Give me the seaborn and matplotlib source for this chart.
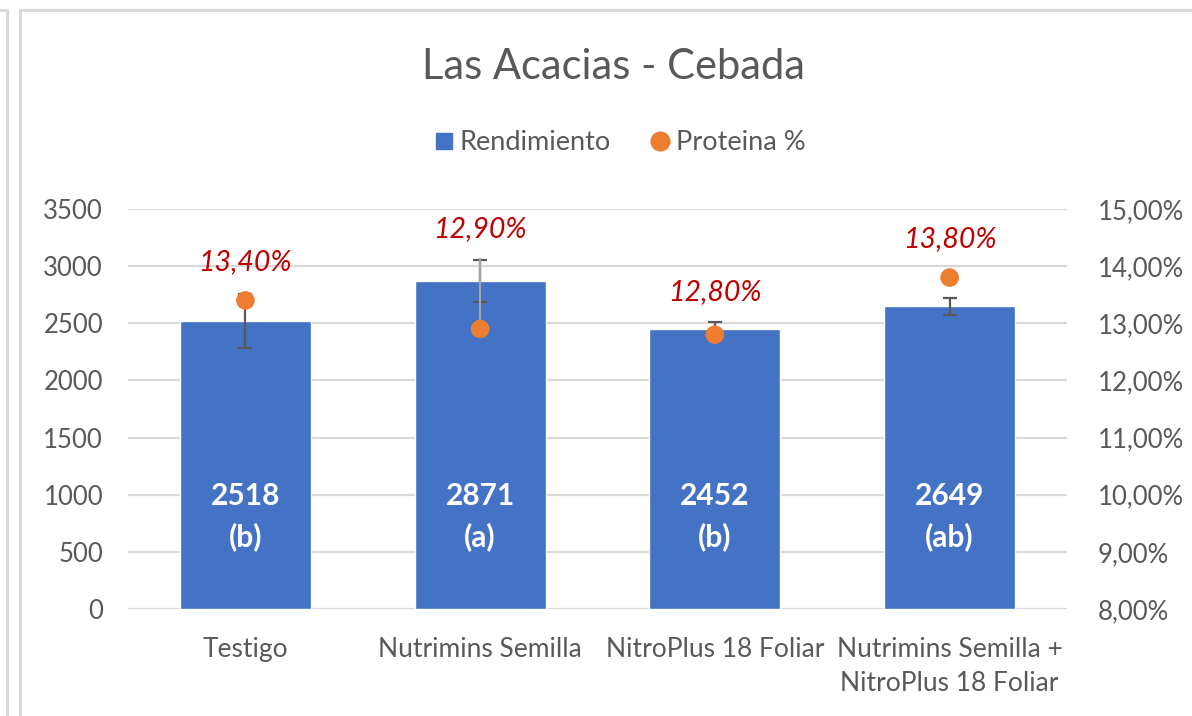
import numpy as np
import matplotlib.pyplot as plt
import seaborn as sns
from matplotlib.lines import Line2D
from matplotlib.ticker import FuncFormatter, MultipleLocator

# data
categorias = ["Testigo", "Nutrimins Semilla", "NitroPlus 18 Foliar",
              "Nutrimins Semilla +\nNitroPlus 18 Foliar"]
rendimiento = [2518, 2871, 2452, 2649]
letras = ["b", "a", "b", "ab"]
rend_error = [234, 187, 62, 73]
proteina = [13.4, 12.9, 12.8, 13.8]
prot_error_sup = [0, 1.24, 0, 0]

AZUL = "#4472C4"
NARANJA = "#ED7D31"
GRIS = "#595959"
ROJO = "#C00000"

sns.set_theme(style="white")
plt.rcParams['font.family'] = ['Lato', 'DejaVu Sans']

fig = plt.figure(figsize=(11.92, 7.16), dpi=100)
ax = fig.add_axes([128 / 1192, 1 - 609 / 716, 939 / 1192, 400 / 716])

# 1. bars (rendimiento)
sns.barplot(x=categorias, y=rendimiento, color=AZUL, saturation=1,
            width=0.557, ax=ax, zorder=2)
x_pos = np.arange(len(categorias))
ax.errorbar(x_pos, rendimiento, yerr=rend_error, fmt='none', ecolor=GRIS,
            elinewidth=1.6, capsize=5, capthick=1.6, zorder=3)

ax.set_ylim(0, 3500)
ax.set_xlim(-0.5, 3.5)
ax.yaxis.set_major_locator(MultipleLocator(500))
ax.grid(axis='y', color='#D9D9D9', linewidth=1.6, zorder=0)
ax.set_axisbelow(True)
for s in ax.spines.values():
    s.set_visible(False)
ax.tick_params(axis='both', length=0, colors=GRIS)
ax.tick_params(axis='y', pad=18, labelsize=18.5)
ax.tick_params(axis='x', pad=20)
ax.set_xticks(x_pos)
ax.set_xticklabels(categorias, fontsize=19, linespacing=1.44,
                   multialignment='center', color=GRIS)
ax.set_xlabel("")
ax.set_ylabel("")

# value + letter inside bars
for x, v, l in zip(x_pos, rendimiento, letras):
    ax.text(x, 0.232, f"{v}\n({l})", transform=ax.get_xaxis_transform(),
            ha='center', va='center', color='white', fontsize=21.5,
            fontweight='bold', linespacing=1.5, zorder=4)

# 2. protein (secondary axis)
ax2 = ax.twinx()
ax2.errorbar(x_pos, proteina, yerr=[np.zeros(len(proteina)), prot_error_sup],
             fmt='none', ecolor='#A6A6A6', elinewidth=1.6, capsize=0, zorder=2)
sns.scatterplot(x=x_pos, y=proteina, color=NARANJA, s=180, edgecolor='none',
                ax=ax2, zorder=3, legend=False)
ax2.set_ylim(8, 15)
ax2.yaxis.set_major_locator(MultipleLocator(1))
ax2.yaxis.set_major_formatter(FuncFormatter(lambda v, p: f"{v:.2f}%".replace('.', ',')))
ax2.grid(False)
for s in ax2.spines.values():
    s.set_visible(False)
ax2.tick_params(axis='y', length=0, colors=GRIS, labelsize=18.5, pad=22)
ax2.set_xlim(-0.5, 3.5)

# red labels above the highest element of each column
radio_pct = 0.16
for x, p, pe, r, re in zip(x_pos, proteina, prot_error_sup, rendimiento, rend_error):
    top_bar = 8 + (r + re) / 3500 * 7
    ancla = max(p + radio_pct, p + pe, top_bar)
    ax2.annotate(f"{p:.2f}%".replace('.', ','), (x, ancla), xytext=(0, 21),
                 textcoords='offset points', ha='center', va='center',
                 color=ROJO, fontsize=20.5, fontstyle='italic')

# title and legend
fig.text(613 / 1192, 1 - 67 / 716, "Las Acacias - Cebada", ha='center',
         va='center', fontsize=30, color=GRIS)
handles = [Line2D([], [], marker='s', linestyle='none', color=AZUL, markersize=11.5),
           Line2D([], [], marker='o', linestyle='none', color=NARANJA, markersize=13.5)]
fig.legend(handles, ["Rendimiento", "Proteina %"], loc='center',
           bbox_to_anchor=(618 / 1192, 1 - 143 / 716), ncol=2, frameon=False,
           fontsize=19.5, labelcolor=GRIS, handletextpad=0.1, columnspacing=1.3,
           handlelength=1.0)

# chart frame lines
borde = dict(color='#D9D9D9', linewidth=2.2)
fig.add_artist(Line2D([20 / 1192, 1], [1 - 10 / 716] * 2, **borde))
fig.add_artist(Line2D([20 / 1192] * 2, [0, 1 - 10 / 716], **borde))
fig.add_artist(Line2D([7 / 1192] * 2, [0, 1 - 10 / 716], **borde))
fig.add_artist(Line2D([0, 7 / 1192], [1 - 10 / 716] * 2, **borde))

fig.savefig("out.png", dpi=100)
